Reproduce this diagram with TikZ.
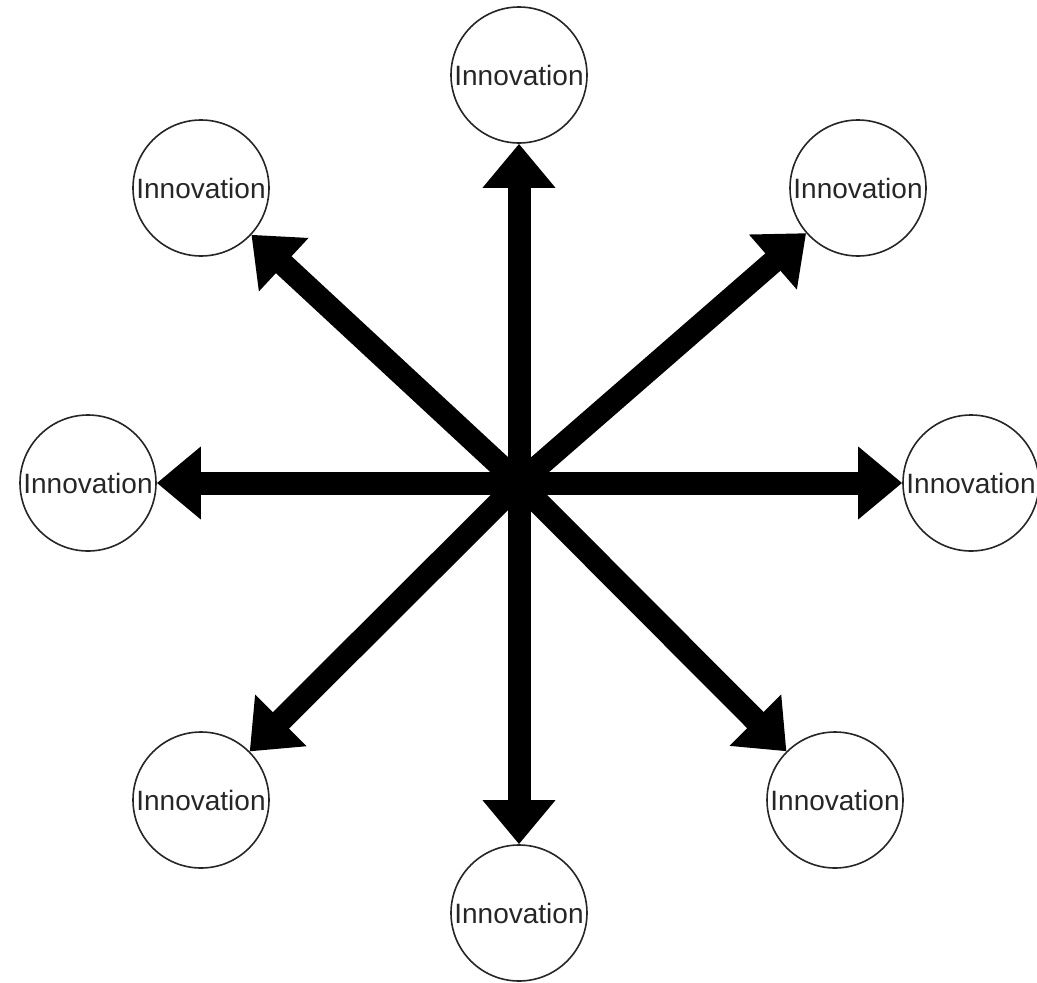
\documentclass[tikz,border=0pt]{standalone}
\usepackage{fontspec}
\setmainfont{Liberation Sans}
\usetikzlibrary{arrows.meta}
\tikzset{
  innov/.style={circle, draw=black!85, line width=1.6pt, minimum size=136pt, inner sep=0pt,
    font=\fontsize{28}{32}\selectfont, text=black!85},
  spoke/.style={line width=23pt, line cap=butt, -{Triangle[length=44pt,width=70pt]}}
}
\begin{document}
\begin{tikzpicture}[x=1pt,y=-1pt]
\useasboundingbox (0,0) rectangle (1037,983);
\coordinate (hub) at (519,483);
\node[innov] (t)  at (519,75)  {Innovation};
\node[innov] (tl) at (201,188) {Innovation};
\node[innov] (tr) at (858,188) {Innovation};
\node[innov] (l)  at (88,483)  {Innovation};
\node[innov] (r)  at (971,483) {Innovation};
\node[innov] (bl) at (201,800) {Innovation};
\node[innov] (br) at (835,800) {Innovation};
\node[innov] (b)  at (519,913) {Innovation};
\foreach \n in {t,tl,tr,l,r,bl,br,b}{
  \draw[spoke] (hub) -- (\n);
}
\end{tikzpicture}
\end{document}
